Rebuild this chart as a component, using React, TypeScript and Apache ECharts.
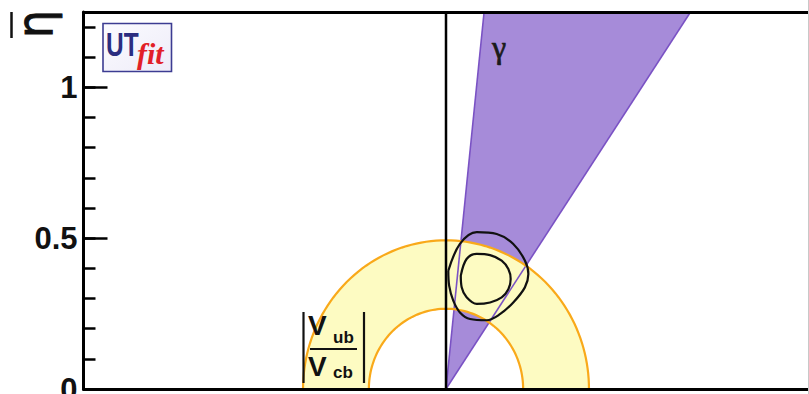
import { useEffect, useRef } from 'react';
import * as echarts from 'echarts';

// Plot ranges (rho-bar horizontally, eta-bar vertically)
const rhoRange = [-1.25, 1.25];
const etaRange = [0, 1.25];
const etaMajorStep = 0.5;
const etaMinorStep = 0.1;

// gamma band, in degrees from the rho axis
const gammaRangeDeg = [56, 84];

// |Vub/Vcb| band: inner and outer radius around the origin
const vubVcbRadii = [0.266, 0.493];

// Probability contours of the fit (rho, eta)
const contourInner: [number, number][] = [
  [0.051, 0.376], [0.071, 0.431], [0.106, 0.448], [0.152, 0.444],
  [0.192, 0.426], [0.215, 0.398], [0.223, 0.365], [0.215, 0.331],
  [0.192, 0.304], [0.152, 0.287], [0.106, 0.282], [0.071, 0.304],
  [0.054, 0.337], [0.051, 0.376],
];
const contourOuter: [number, number][] = [
  [0.008, 0.392], [0.048, 0.481], [0.106, 0.520], [0.175, 0.514],
  [0.232, 0.481], [0.272, 0.426], [0.284, 0.381], [0.272, 0.337],
  [0.232, 0.287], [0.186, 0.248], [0.140, 0.228], [0.083, 0.232],
  [0.048, 0.254], [0.025, 0.293], [0.011, 0.342], [0.008, 0.392],
];

const PURPLE_FILL = '#a68bd9';
const PURPLE_EDGE = '#7a52c4';
const YELLOW_FILL = '#fdfbc2';
const ORANGE_EDGE = '#f9a91a';

const arcPoints = (r: number, from: number, to: number, n = 90) => {
  const pts: [number, number][] = [];
  for (let i = 0; i <= n; i++) {
    const a = from + ((to - from) * i) / n;
    pts.push([r * Math.cos(a), r * Math.sin(a)]);
  }
  return pts;
};

const gammaEdge = (deg: number): [number, number] => {
  const top = etaRange[1];
  return [top / Math.tan((deg * Math.PI) / 180), top];
};

export default function App() {
  const ref = useRef<HTMLDivElement>(null);

  useEffect(() => {
    if (!ref.current) return;
    const chart = echarts.init(ref.current, null, { renderer: 'svg' });

    const [rIn, rOut] = vubVcbRadii;
    const gLow = gammaEdge(gammaRangeDeg[0]);
    const gHigh = gammaEdge(gammaRangeDeg[1]);

    const toPx = (api: any, pts: [number, number][]) => pts.map((p) => api.coord(p));

    const hiddenAxisBase = {
      type: 'value',
      axisTick: { show: false },
      axisLabel: { show: false },
      splitLine: { show: false },
    };

    const option: any = {
      animation: false,
      backgroundColor: '#ffffff',
      grid: {
        left: 83.5,
        top: 12,
        width: 725,
        height: 377,
        containLabel: false,
        outerBoundsMode: 'none',
      },
      xAxis: [
        {
          ...hiddenAxisBase,
          min: rhoRange[0],
          max: rhoRange[1],
          position: 'bottom',
          z: 10,
          axisLine: { show: true, onZero: false, lineStyle: { color: '#000', width: 3 } },
        },
        {
          ...hiddenAxisBase,
          min: rhoRange[0],
          max: rhoRange[1],
          position: 'top',
          z: 10,
          axisLine: { show: true, onZero: false, lineStyle: { color: '#000', width: 3 } },
        },
      ],
      yAxis: [
        {
          type: 'value',
          min: etaRange[0],
          max: etaRange[1],
          interval: etaMajorStep,
          position: 'left',
          z: 10,
          axisLine: { show: true, onZero: false, lineStyle: { color: '#000', width: 3 } },
          axisTick: { show: true, inside: true, length: 24, lineStyle: { color: '#000', width: 2.5 } },
          axisLabel: {
            show: true,
            showMaxLabel: false,
            margin: 6,
            color: '#111',
            fontFamily: 'Liberation Sans, Arial, sans-serif',
            fontWeight: 'bold',
            fontSize: 31,
          },
          splitLine: { show: false },
        },
        {
          type: 'value',
          min: etaRange[0],
          max: etaRange[1],
          interval: etaMinorStep,
          position: 'left',
          z: 10,
          axisLine: { show: false, onZero: false },
          axisTick: { show: true, inside: true, length: 12, lineStyle: { color: '#000', width: 2.5 } },
          axisLabel: { show: false },
          splitLine: { show: false },
        },
      ],
      series: [
        {
          // gamma band fill
          type: 'custom',
          clip: true,
          data: [[0, 0]],
          silent: true,
          renderItem: (_p: any, api: any) => ({
            type: 'polygon',
            shape: { points: toPx(api, [[0, 0], gLow, gHigh]) },
            style: { fill: PURPLE_FILL, stroke: 'none' },
          }),
        },
        {
          // |Vub/Vcb| band fill
          type: 'custom',
          clip: true,
          data: [[0, 0]],
          silent: true,
          renderItem: (_p: any, api: any) => ({
            type: 'polygon',
            shape: {
              points: toPx(api, [
                ...arcPoints(rOut, 0, Math.PI),
                ...arcPoints(rIn, Math.PI, 0),
              ]),
            },
            style: { fill: YELLOW_FILL, stroke: 'none' },
          }),
        },
        {
          // gamma band edges
          type: 'custom',
          clip: true,
          data: [[0, 0]],
          silent: true,
          renderItem: (_p: any, api: any) => ({
            type: 'group',
            children: [gLow, gHigh].map((e) => {
              const a = api.coord([0, 0]);
              const b = api.coord(e);
              return {
                type: 'line',
                shape: { x1: a[0], y1: a[1], x2: b[0], y2: b[1] },
                style: { stroke: PURPLE_EDGE, lineWidth: 1.6 },
              };
            }),
          }),
        },
        {
          // |Vub/Vcb| band edges
          type: 'custom',
          clip: true,
          data: [[0, 0]],
          silent: true,
          renderItem: (_p: any, api: any) => ({
            type: 'group',
            children: [rIn, rOut].map((r) => ({
              type: 'polyline',
              shape: { points: toPx(api, arcPoints(r, 0, Math.PI)) },
              style: { stroke: ORANGE_EDGE, lineWidth: 2.2, fill: 'none' },
            })),
          }),
        },
        {
          type: 'line',
          data: contourOuter,
          smooth: 0.35,
          showSymbol: false,
          symbol: 'none',
          silent: true,
          lineStyle: { color: '#111', width: 2.2 },
          z: 5,
        },
        {
          type: 'line',
          data: contourInner,
          smooth: 0.35,
          showSymbol: false,
          symbol: 'none',
          silent: true,
          lineStyle: { color: '#111', width: 2.2 },
          z: 5,
        },
        {
          // rho = 0 line
          type: 'line',
          data: [[0, etaRange[0]], [0, etaRange[1]]],
          showSymbol: false,
          symbol: 'none',
          silent: true,
          lineStyle: { color: '#000', width: 2.5 },
          z: 6,
        },
      ],
      graphic: [
        // eta-bar axis title, rotated
        {
          type: 'text',
          z: 100,
          x: 34,
          y: 24,
          rotation: Math.PI / 2,
          scaleY: 1.15,
          style: {
            text: 'η',
            fill: '#111',
            stroke: '#111',
            lineWidth: 0.8,
            font: '44px "DejaVu Sans", sans-serif',
            align: 'center',
            verticalAlign: 'middle',
          },
        },
        {
          type: 'line',
          z: 100,
          shape: { x1: 11.5, y1: 12, x2: 11.5, y2: 38 },
          style: { stroke: '#111', lineWidth: 2.5 },
        },
        // UTfit logo
        {
          type: 'group',
          z: 100,
          children: [
            {
              type: 'rect',
              z: 100,
              shape: { x: 103, y: 23.5, width: 68.5, height: 48 },
              style: {
                fill: new echarts.graphic.LinearGradient(0, 0, 1, 1, [
                  { offset: 0, color: '#fbfbff' },
                  { offset: 1, color: '#eeecf8' },
                ]),
                stroke: '#3c3c92',
                lineWidth: 1.6,
              },
            },
            {
              type: 'text',
              z: 101,
              x: 106,
              y: 27,
              scaleX: 0.72,
              style: {
                text: 'UT',
                fill: '#2b2d80',
                font: 'bold 34px "Liberation Sans", Arial, sans-serif',
                verticalAlign: 'top',
              },
            },
            {
              type: 'text',
              z: 101,
              x: 137,
              y: 38,
              style: {
                text: 'fit',
                fill: '#e21f28',
                font: 'italic bold 30px "Liberation Serif", serif',
                verticalAlign: 'top',
              },
            },
          ],
        },
        // gamma band label
        {
          type: 'text',
          z: 100,
          x: 492,
          y: 31,
          style: {
            text: 'γ',
            fill: '#1a1a1a',
            stroke: '#1a1a1a',
            lineWidth: 0.7,
            font: '32px "Liberation Serif", serif',
            verticalAlign: 'top',
          },
        },
        // |Vub/Vcb| band label
        {
          type: 'group',
          z: 100,
          children: [
            { type: 'line', z: 100, shape: { x1: 303.5, y1: 312, x2: 303.5, y2: 383 }, style: { stroke: '#111', lineWidth: 2.2 } },
            { type: 'line', z: 100, shape: { x1: 364, y1: 312, x2: 364, y2: 383 }, style: { stroke: '#111', lineWidth: 2.2 } },
            { type: 'line', z: 100, shape: { x1: 310, y1: 349, x2: 357, y2: 349 }, style: { stroke: '#111', lineWidth: 2 } },
            {
              type: 'text', z: 100, x: 308, y: 311,
              style: { text: 'V', fill: '#111', font: 'bold 28px "Liberation Sans", Arial, sans-serif', verticalAlign: 'top' },
            },
            {
              type: 'text', z: 100, x: 333, y: 329,
              style: { text: 'ub', fill: '#111', font: 'bold 17px "Liberation Sans", Arial, sans-serif', verticalAlign: 'top' },
            },
            {
              type: 'text', z: 100, x: 308, y: 352,
              style: { text: 'V', fill: '#111', font: 'bold 28px "Liberation Sans", Arial, sans-serif', verticalAlign: 'top' },
            },
            {
              type: 'text', z: 100, x: 333, y: 364,
              style: { text: 'cb', fill: '#111', font: 'bold 17px "Liberation Sans", Arial, sans-serif', verticalAlign: 'top' },
            },
          ],
        },
        // faint right frame edge
        {
          type: 'line',
          z: 100,
          shape: { x1: 808.5, y1: 0, x2: 808.5, y2: 394 },
          style: { stroke: '#c8c8c8', lineWidth: 1 },
        },
      ],
    };

    chart.setOption(option);
    return () => chart.dispose();
  }, []);

  return (
    <div
      ref={ref}
      style={{ position: 'fixed', left: 0, top: 0, width: 809, height: 394 }}
    />
  );
}
